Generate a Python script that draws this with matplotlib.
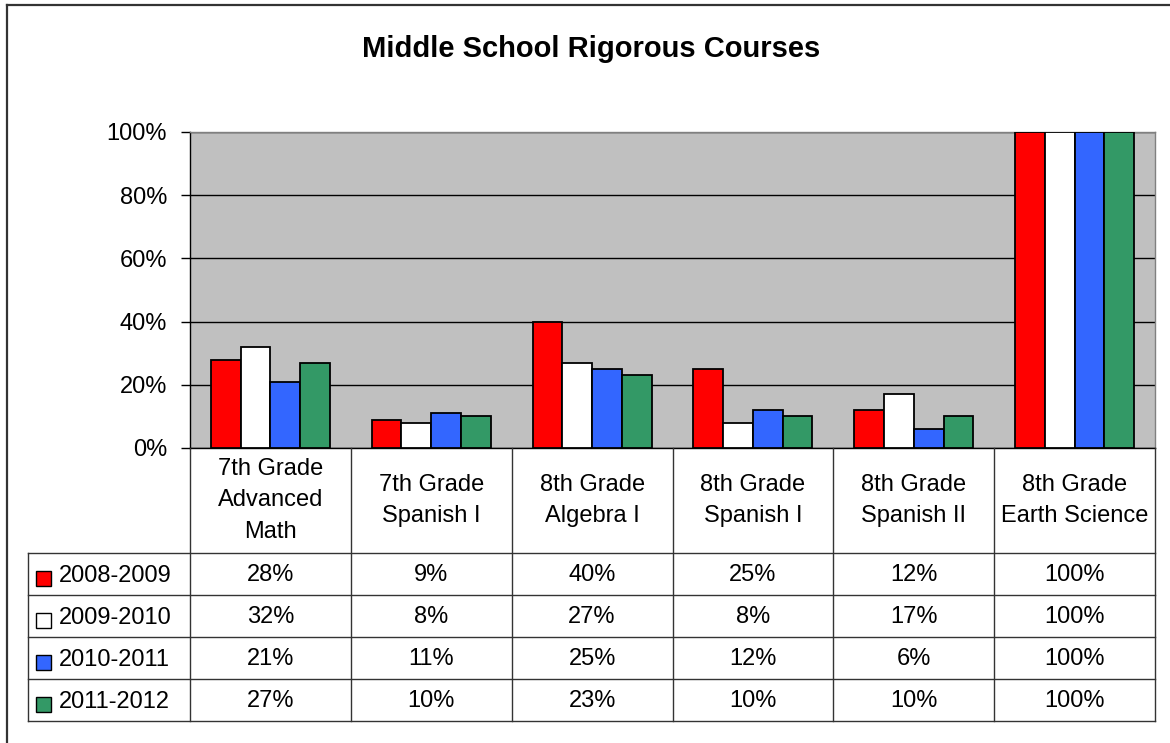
import matplotlib
matplotlib.use("Agg")
import matplotlib.pyplot as plt
from matplotlib.patches import Rectangle
from matplotlib.lines import Line2D

categories = ["7th Grade\nAdvanced\nMath", "7th Grade\nSpanish I", "8th Grade\nAlgebra I",
              "8th Grade\nSpanish I", "8th Grade\nSpanish II", "8th Grade\nEarth Science"]
series_names = ["2008-2009", "2009-2010", "2010-2011", "2011-2012"]
v2008 = [28, 9, 40, 25, 12, 100]
v2009 = [32, 8, 27, 8, 17, 100]
v2010 = [21, 11, 25, 12, 6, 100]
v2011 = [27, 10, 23, 10, 10, 100]
series_values = [v2008, v2009, v2010, v2011]
colors = ["#FF0000", "#FFFFFF", "#3366FF", "#339966"]
yticks = [0, 20, 40, 60, 80, 100]

plt.rcParams['font.family'] = ['Liberation Sans', 'DejaVu Sans']
FS = 17

W, H = 1170, 743
fig = plt.figure(figsize=(W / 100, H / 100), dpi=100)

# plot area in pixels
L, R, T, B = 190, 1155, 132, 448
ax = fig.add_axes([L / W, 1 - B / H, (R - L) / W, (B - T) / H])
ax.set_facecolor("#C0C0C0")
n = len(categories)
ax.set_xlim(-0.5, n - 0.5)
ax.set_ylim(0, 100)
bw = 0.185
for i, (vals, c) in enumerate(zip(series_values, colors)):
    xs = [k + (i - 1.5) * bw for k in range(n)]
    ax.bar(xs, vals, width=bw, color=c, edgecolor="black", linewidth=1.3, zorder=3)
ax.set_yticks(yticks)
ax.set_yticklabels([f"{t}%" for t in yticks], fontsize=FS)
ax.yaxis.grid(True, color="black", linewidth=1.0, zorder=1)
ax.set_axisbelow(True)
ax.tick_params(axis='y', direction='out', length=6.5, width=1, color='black', pad=10)
ax.set_xticks([k - 0.5 for k in range(1, n)])
ax.set_xticklabels([])
ax.tick_params(axis='x', direction='out', length=0)
ax.spines['left'].set_color('black')
ax.spines['bottom'].set_color('black')
ax.spines['top'].set_color('#808080')
ax.spines['right'].set_color('#808080')
for s in ax.spines.values():
    s.set_linewidth(1.0)

# overlay axes in pixel coordinates for title, table, frame
ov = fig.add_axes([0, 0, 1, 1], zorder=5)
ov.set_xlim(0, W)
ov.set_ylim(H, 0)
ov.axis('off')
ov.patch.set_alpha(0)

ov.add_line(Line2D([7, 7], [5, H + 5], color="#333333", linewidth=1.6))
ov.add_line(Line2D([7, W + 5], [5, 5], color="#333333", linewidth=1.6))

ov.text((L + R) / 2 - 81, 49, "Middle School Rigorous Courses", ha="center", va="center",
        fontsize=21, fontweight="bold")

colw = (R - L) / n
header_bottom = 553
rowh = 42
rows_bottom = header_bottom + rowh * len(series_names)
tl_left = 28
lc = "#333333"
for k in range(n + 1):
    x = L + k * colw
    ov.add_line(Line2D([x, x], [B, rows_bottom], color=lc, linewidth=1.0))
ov.add_line(Line2D([tl_left, tl_left], [header_bottom, rows_bottom], color=lc, linewidth=1.0))
for r in range(len(series_names) + 1):
    y = header_bottom + r * rowh
    ov.add_line(Line2D([tl_left, R], [y, y], color=lc, linewidth=1.0))

for k, cat in enumerate(categories):
    ov.text(L + (k + 0.5) * colw, (B + header_bottom) / 2, cat, ha="center", va="center",
            fontsize=FS, linespacing=1.55)

for r, (name, vals, c) in enumerate(zip(series_names, series_values, colors)):
    yc = header_bottom + (r + 0.5) * rowh
    ov.add_patch(Rectangle((36, yc - 3), 15, 15, facecolor=c, edgecolor="black", linewidth=1.0))
    ov.text(59, yc + 2, name, ha="left", va="center", fontsize=FS)
    for k, v in enumerate(vals):
        ov.text(L + (k + 0.5) * colw, yc + 1, f"{v}%", ha="center", va="center", fontsize=FS)

fig.savefig("out.png", dpi=100)
